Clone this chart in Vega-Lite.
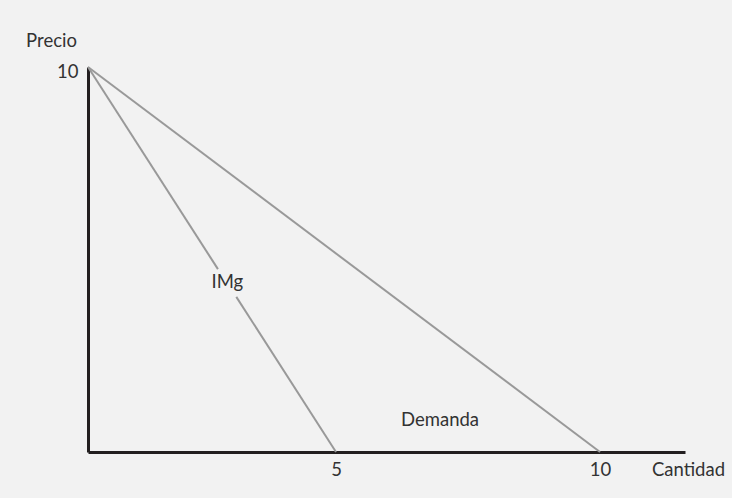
{
  "$schema": "https://vega.github.io/schema/vega-lite/v6.json",
  "autosize": "none",
  "width": 597,
  "height": 385,
  "padding": {"left": 88, "top": 67, "right": 47, "bottom": 46},
  "background": "#f2f2f2",
  "config": {
    "view": {"stroke": null},
    "font": "Lato",
    "axis": {"grid": false, "ticks": false, "tickSize": 0, "domainColor": "#231f20", "domainWidth": 3,
             "labelFont": "Lato", "labelFontSize": 18.5, "labelColor": "#333333",
             "titleFont": "Lato", "titleFontSize": 18.5, "titleFontWeight": "normal", "titleColor": "#333333"}
  },
  "datasets": {
    "lines": [
      {"curve": "Demanda", "seg": "D", "q": 0, "p": 10},
      {"curve": "Demanda", "seg": "D", "q": 10, "p": 0},
      {"curve": "IMg", "seg": "I1", "q": 0, "p": 10},
      {"curve": "IMg", "seg": "I1", "q": 2.62, "p": 4.75},
      {"curve": "IMg", "seg": "I2", "q": 2.99, "p": 4.03},
      {"curve": "IMg", "seg": "I2", "q": 5, "p": 0}
    ],
    "labels": [
      {"label": "IMg", "q": 2.81, "p": 4.42},
      {"label": "Demanda", "q": 6.97, "p": 0.83}
    ]
  },
  "layer": [
    {
      "data": {"name": "lines"},
      "mark": {"type": "line", "color": "#999999", "strokeWidth": 2},
      "encoding": {
        "x": {"field": "q", "type": "quantitative",
              "scale": {"domain": [0, 5, 10, 11.61], "range": [0, 248, 512, 597], "zero": false, "nice": false},
              "axis": {"values": [5, 10], "labelPadding": 8, "title": "Cantidad",
                       "titleX": 600, "titleY": 17, "titleAlign": "center", "titleBaseline": "middle"}},
        "y": {"field": "p", "type": "quantitative",
              "scale": {"domain": [0, 10], "nice": false},
              "axis": {"values": [10], "labelPadding": 10, "labelOffset": 4, "title": "Precio",
                       "titleAngle": 0, "titleX": -37, "titleY": -27, "titleAlign": "center", "titleBaseline": "middle"}},
        "detail": {"field": "seg"},
        "order": {"field": "q"}
      }
    },
    {
      "data": {"name": "labels"},
      "mark": {"type": "text", "font": "Lato", "fontSize": 18.5, "color": "#333333", "align": "center", "baseline": "middle"},
      "encoding": {
        "x": {"field": "q", "type": "quantitative"},
        "y": {"field": "p", "type": "quantitative"},
        "text": {"field": "label"}
      }
    }
  ]
}
